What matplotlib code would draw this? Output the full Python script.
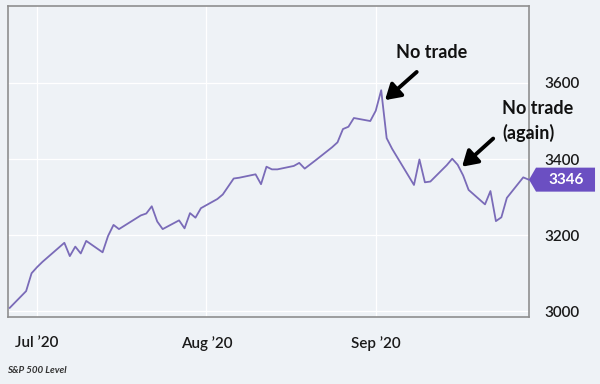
import matplotlib
matplotlib.use("Agg")
import matplotlib.pyplot as plt
import matplotlib.dates as mdates
from matplotlib.patches import Polygon
import pandas as pd

# ── data: S&P 500 daily level, late Jun to end of Sep 2020 ──────────────────
dates = [
    "2020-06-26", "2020-06-29", "2020-06-30", "2020-07-01", "2020-07-02",
    "2020-07-06", "2020-07-07", "2020-07-08", "2020-07-09", "2020-07-10",
    "2020-07-13", "2020-07-14", "2020-07-15", "2020-07-16", "2020-07-17",
    "2020-07-20", "2020-07-21", "2020-07-22", "2020-07-23", "2020-07-24",
    "2020-07-27", "2020-07-28", "2020-07-29", "2020-07-30", "2020-07-31",
    "2020-08-03", "2020-08-04", "2020-08-05", "2020-08-06", "2020-08-07",
    "2020-08-10", "2020-08-11", "2020-08-12", "2020-08-13", "2020-08-14",
    "2020-08-17", "2020-08-18", "2020-08-19", "2020-08-20", "2020-08-21",
    "2020-08-24", "2020-08-25", "2020-08-26", "2020-08-27", "2020-08-28",
    "2020-08-31", "2020-09-01", "2020-09-02", "2020-09-03", "2020-09-04",
    "2020-09-08", "2020-09-09", "2020-09-10", "2020-09-11", "2020-09-14",
    "2020-09-15", "2020-09-16", "2020-09-17", "2020-09-18", "2020-09-21",
    "2020-09-22", "2020-09-23", "2020-09-24", "2020-09-25", "2020-09-28",
    "2020-09-29",
]
levels = [
    3009, 3053, 3100, 3116, 3130,
    3180, 3145, 3170, 3152, 3185,
    3155, 3198, 3227, 3216, 3225,
    3252, 3257, 3276, 3236, 3216,
    3239, 3218, 3258, 3246, 3271,
    3295, 3307, 3328, 3349, 3351,
    3360, 3334, 3380, 3373, 3373,
    3382, 3390, 3375, 3386, 3397,
    3431, 3444, 3479, 3485, 3508,
    3500, 3527, 3581, 3455, 3427,
    3332, 3399, 3339, 3341, 3384,
    3401, 3385, 3357, 3319, 3281,
    3316, 3237, 3247, 3298, 3352,
    3346,
]
month_ticks = ["2020-07-01", "2020-08-01", "2020-09-01"]
month_labels = ["Jul \u201920", "Aug \u201920", "Sep \u201920"]
level_ticks = [3000, 3200, 3400, 3600]
caption = "S&P 500 Level"

BG = "#eef2f6"
LINE = "#7a6bb8"
TAG = "#6b4fc2"
FONT = "Lato"

x = mdates.date2num(pd.to_datetime(dates))
d = lambda s, off=0.0: mdates.date2num(pd.Timestamp(s)) + off

fig = plt.figure(figsize=(6, 3.84), dpi=100, facecolor=BG)
ax = fig.add_axes([0.0133, 0.1745, 0.8684, 0.8095], facecolor=BG)

ax.plot(x, levels, color=LINE, lw=1.3, zorder=3, clip_on=False)

ax.set_xlim(d("2020-06-26", -0.32), d("2020-09-29", 0.06))
ax.set_ylim(2985, 3802)

ax.set_xticks(mdates.date2num(pd.to_datetime(month_ticks)))
ax.set_xticklabels(month_labels)
ax.set_yticks(level_ticks)
ax.yaxis.tick_right()
ax.tick_params(axis="x", length=0, pad=14, labelsize=11, colors="#1a1a1a")
ax.tick_params(axis="y", length=0, pad=11, labelsize=11, colors="#1a1a1a")
for lbl in ax.get_xticklabels() + ax.get_yticklabels():
    lbl.set_fontfamily(FONT)
    lbl.set_fontweight("semibold")

ax.grid(True, color="white", lw=0.9, zorder=0)
for sp in ax.spines.values():
    sp.set_color("#8f8f8f")
    sp.set_linewidth(1.2)

# annotations
arrow = dict(arrowstyle="-|>,head_width=0.55,head_length=0.9",
             color="black", lw=2.8, shrinkA=0, shrinkB=0)
ax.annotate("", xy=(d("2020-09-02", 0.7), 3555),
            xytext=(d("2020-09-08", 0.5), 3629), arrowprops=arrow)
ax.text(d("2020-09-11", 0.3), 3679, "No trade", ha="center", va="center",
        fontsize=13, family=FONT, fontweight="bold", color="#111111")
ax.annotate("", xy=(d("2020-09-16", 0.8), 3380),
            xytext=(d("2020-09-22", 0.5), 3454), arrowprops=arrow)
ax.text(d("2020-09-24", 0.1), 3500, "No trade\n(again)", ha="left",
        va="center", linespacing=1.4, fontsize=13, family=FONT,
        fontweight="bold", color="#111111", clip_on=False)

# last value tag on the right axis
x0, y0 = ax.transData.transform((ax.get_xlim()[1], levels[-1]))
pts = [(x0, y0), (x0 + 7, y0 + 12), (x0 + 66, y0 + 12),
       (x0 + 66, y0 - 12), (x0 + 7, y0 - 12)]
inv = fig.transFigure.inverted()
fig.add_artist(Polygon(inv.transform(pts), closed=True, facecolor=TAG,
                       edgecolor="none", transform=fig.transFigure))
tx, ty = inv.transform((x0 + 37, y0))
fig.text(tx, ty, f"{levels[-1]}", ha="center", va="center", color="white",
         fontsize=11, family=FONT, fontweight="bold")

fig.text(0.012, 0.034, caption, ha="left", va="center", fontsize=7,
         family=FONT, style="italic", fontweight="bold", color="#333333")

fig.savefig("out.png", dpi=100, facecolor=BG)
